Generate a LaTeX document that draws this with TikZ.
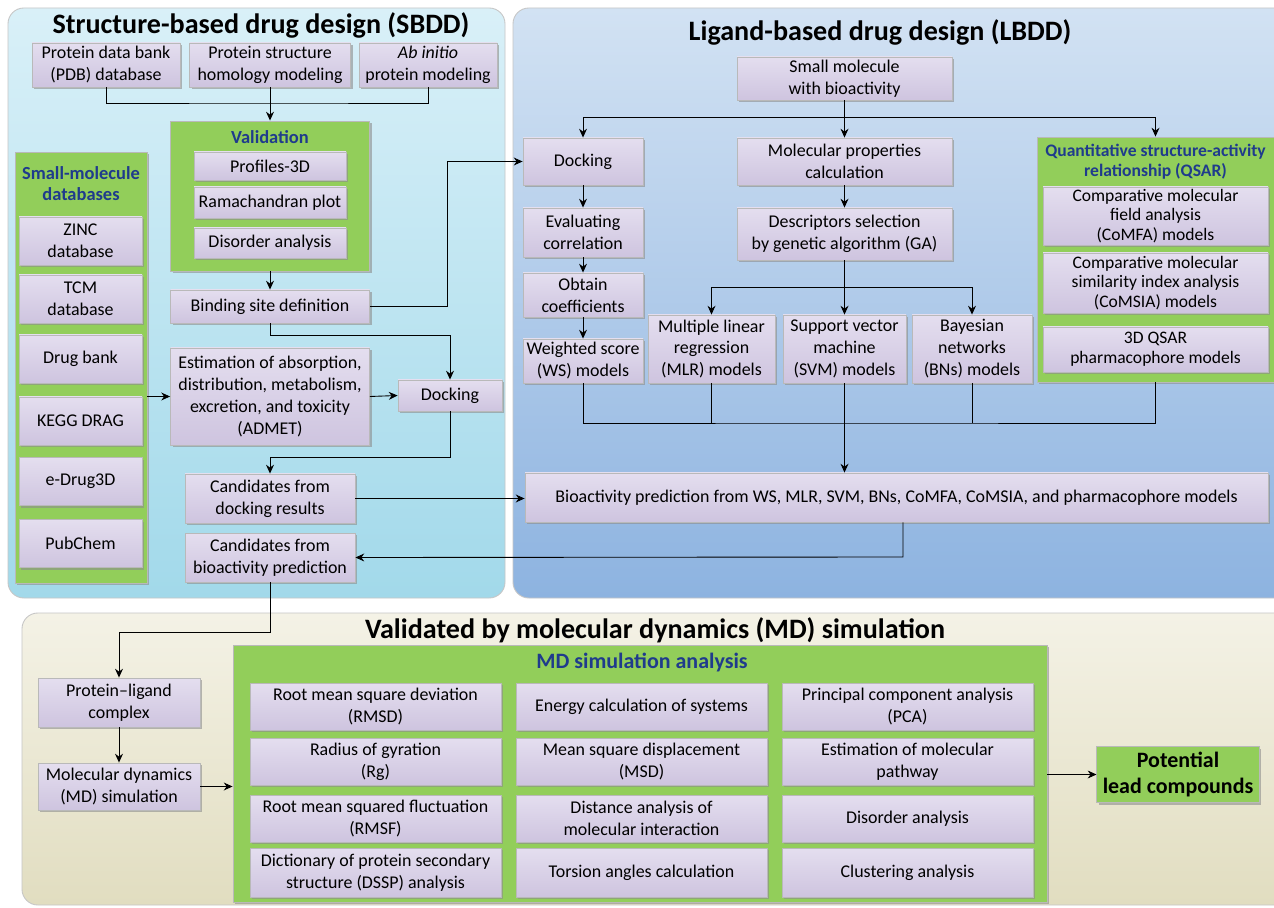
\documentclass[tikz,border=0pt]{standalone}
\usepackage{fontspec}
\setmainfont{Carlito}
\usepackage{tikz}
\usetikzlibrary{arrows.meta}
\usetikzlibrary{shadows}

\definecolor{LilacTop}{HTML}{E4DEEF}
\definecolor{LilacBot}{HTML}{CEC4DF}
\definecolor{PanelGreen}{HTML}{92CE5A}
\definecolor{TitleBlue}{HTML}{1F3B8C}
\definecolor{SbTop}{HTML}{D9F0F8}
\definecolor{SbBot}{HTML}{A2D9EA}
\definecolor{LbTop}{HTML}{D2E2F3}
\definecolor{LbBot}{HTML}{8DB3E0}
\definecolor{MdTop}{HTML}{F4F2E6}
\definecolor{MdBot}{HTML}{E1DDC0}

\begin{document}
\begin{tikzpicture}[x=0.02cm, y=-0.02cm, line width=0.5pt,
    box/.style={draw=gray!55, top color=LilacTop, bottom color=LilacBot, align=center,
        inner sep=1pt, font=\fontsize{10.2}{12.5}\selectfont,
        drop shadow={shadow xshift=1.2pt, shadow yshift=-1.2pt, fill=black!45, opacity=0.6}},
    qbox/.style={box, font=\fontsize{10}{11.3}\selectfont},
    greenbox/.style={draw=gray!55, fill=PanelGreen,
        drop shadow={shadow xshift=1.2pt, shadow yshift=-1.2pt, fill=black!45, opacity=0.6}},
    sz/.style 2 args={minimum width=#1*0.02cm, minimum height=#2*0.02cm},
    head/.style={font=\fontsize{16}{19}\selectfont\bfseries},
    bluehead/.style={text=TitleBlue, align=center, font=\fontsize{10.5}{12}\selectfont\bfseries},
    panel/.style={draw=gray!45, line width=0.5pt, rounded corners=9pt},
    arr/.style={-{Stealth[length=5pt,width=4.5pt]}}]

    \clip (0,0) rectangle (1274,908);
    \fill[white] (0,0) rectangle (1274,908);

    % ---- SBDD ----
    \draw[panel, top color=SbTop, bottom color=SbBot] (8,8) rectangle (505,598);
    \node[head] (sbddT) at (261,25) {Structure-based drug design (SBDD)};

    \node[box, sz={148}{44}] (pdb) at (106,65) {Protein data bank\\(PDB) database};
    \node[box, sz={161}{44}] (homol) at (270,65) {Protein structure\\homology modeling};
    \node[box, sz={138}{44}] (abinit) at (428,65) {\textit{Ab initio}\\protein modeling};

    \node[greenbox, sz={199}{150}] (val) at (270,196) {};
    \node[bluehead] (valT) at (270,137) {Validation};
    \node[box, sz={152}{28}] (prof) at (270,166) {Profiles-3D};
    \node[box, sz={152}{31}] (rama) at (270,202.5) {Ramachandran plot};
    \node[box, sz={152}{30}] (disA) at (270,243) {Disorder analysis};

    \node[box, sz={199}{33}] (bind) at (270,306.5) {Binding site definition};
    \node[box, sz={199}{97}] (admet) at (270,396.5) {Estimation of absorption,\\distribution, metabolism,\\excretion, and toxicity\\(ADMET)};
    \node[box, sz={104}{31}] (dockS) at (450,395.5) {Docking};
    \node[box, sz={170}{49}] (candD) at (270,498.5) {Candidates from\\docking results};
    \node[box, sz={170}{49}] (candB) at (270,557.5) {Candidates from\\bioactivity prediction};

    \node[greenbox, sz={132}{431}] (smdb) at (81,367.5) {};
    \node[bluehead] (smdbT) at (81,184) {Small-molecule\\databases};
    \node[box, sz={123}{48}] (zinc) at (80.5,241) {ZINC\\database};
    \node[box, sz={123}{48}] (tcm) at (80.5,299) {TCM\\database};
    \node[box, sz={123}{48}] (dbank) at (80.5,359) {Drug bank};
    \node[box, sz={123}{48}] (kegg) at (80.5,421) {KEGG DRAG};
    \node[box, sz={123}{48}] (edrug) at (80.5,481.5) {e-Drug3D};
    \node[box, sz={123}{48}] (pubchem) at (80.5,543.5) {PubChem};

    % ---- LBDD ----
    \draw[panel, top color=LbTop, bottom color=LbBot] (513,8) rectangle (1300,598);
    \node[head] (lbddT) at (880,32) {Ligand-based drug design (LBDD)};

    \node[box, sz={215}{43}] (small) at (844.5,78.5) {Small molecule\\with bioactivity};
    \node[box, sz={120}{47}] (dockL) at (583,161.5) {Docking};
    \node[box, sz={120}{49}] (evalc) at (583,232.5) {Evaluating\\correlation};
    \node[box, sz={120}{44}] (obtain) at (583,295) {Obtain\\coefficients};
    \node[box, sz={120}{44}] (ws) at (583,361) {Weighted score\\(WS) models};
    \node[box, sz={215}{47}] (molprop) at (844.5,161.5) {Molecular properties\\calculation};
    \node[box, sz={215}{52}] (desc) at (844.5,234) {Descriptors selection\\by genetic algorithm (GA)};
    \node[box, sz={127}{68}] (mlr) at (711.5,349) {Multiple linear\\regression\\(MLR) models};
    \node[box, sz={123}{68}] (svm) at (844.5,349) {Support vector\\machine\\(SVM) models};
    \node[box, sz={120}{68}] (bns) at (972,349) {Bayesian\\networks\\(BNs) models};

    \node[greenbox, sz={237}{245}] (qsar) at (1155.5,259.5) {};
    \node[bluehead, font=\fontsize{10}{11.5}\selectfont\bfseries] (qsarT) at (1155.5,162) {Quantitative structure-activity\\relationship (QSAR)};
    \node[qbox, sz={225}{58}] (comfa) at (1155.5,216) {Comparative molecular\\field analysis\\(CoMFA) models};
    \node[qbox, sz={225}{60}] (comsia) at (1155.5,283) {Comparative molecular\\similarity index analysis\\(CoMSIA) models};
    \node[qbox, sz={225}{45}] (phar) at (1155.5,349.5) {3D QSAR\\pharmacophore models};

    \node[box, sz={743}{49}] (bio) at (896.5,497.5) {Bioactivity prediction from WS, MLR, SVM, BNs, CoMFA, CoMSIA, and pharmacophore models};

    % ---- MD ----
    \draw[panel, top color=MdTop, bottom color=MdBot] (22,613) rectangle (1300,905);
    \node[head] (mdT) at (655,630) {Validated by molecular dynamics (MD) simulation};

    \node[box, sz={162}{49}] (pl) at (119,702.5) {Protein--ligand\\complex};
    \node[box, sz={162}{47}] (mdsim) at (119,786.5) {Molecular dynamics\\(MD) simulation};

    \node[greenbox, sz={814}{257}] (mdan) at (640,773.5) {};
    \node[bluehead, font=\fontsize{12.5}{14}\selectfont\bfseries] (mdanT) at (642,663) {MD simulation analysis};
    \node[box, sz={251}{47}] (rmsd) at (375.5,706.5) {Root mean square deviation\\(RMSD)};
    \node[box, sz={251}{47}] (energy) at (641.5,706.5) {Energy calculation of systems};
    \node[box, sz={251}{47}] (pca) at (907.5,706.5) {Principal component analysis\\(PCA)};
    \node[box, sz={251}{47}] (rg) at (375.5,761.5) {Radius of gyration\\(Rg)};
    \node[box, sz={251}{47}] (msd) at (641.5,761.5) {Mean square displacement\\(MSD)};
    \node[box, sz={251}{47}] (path) at (907.5,761.5) {Estimation of molecular\\pathway};
    \node[box, sz={251}{47}] (rmsf) at (375.5,818.5) {Root mean squared fluctuation\\(RMSF)};
    \node[box, sz={251}{47}] (dist) at (641.5,818.5) {Distance analysis of\\molecular interaction};
    \node[box, sz={251}{47}] (disB) at (907.5,818.5) {Disorder analysis};
    \node[box, sz={251}{49}] (dssp) at (375.5,872.5) {Dictionary of protein secondary\\structure (DSSP) analysis};
    \node[box, sz={251}{49}] (tors) at (641.5,872.5) {Torsion angles calculation};
    \node[box, sz={251}{49}] (clus) at (907.5,872.5) {Clustering analysis};

    \node[greenbox, align=center, font=\fontsize{12.5}{14.5}\selectfont\bfseries, sz={160}{55}] (lead) at (1178,774.5) {Potential\\lead compounds};

    % ---- connectors ----
    \coordinate (J1) at (270,103);
    \coordinate (J2) at (447,161.5);
    \coordinate (J3) at (450,335);
    \coordinate (J4) at (270,457);
    \coordinate (J5) at (903,557);
    \coordinate (J6) at (119,632);
    \coordinate (J7) at (844.5,117);
    \coordinate (J8) at (844.5,287);
    \coordinate (J9) at (844.5,423);

    \draw (pdb.south) |- (J1) -| (abinit.south);
    \draw[arr] (homol.south) -- (val.north);
    \draw[arr] (val.south) -- (bind.north);
    \draw[arr] (bind.east) -| (J2) -- (dockL.west);
    \draw[arr] (bind.south) |- (J3) -- (dockS.north);
    \draw[arr] (smdb.east |- admet) -- (admet.west);
    \draw[arr] (admet.east) -- (dockS.west);
    \draw[arr] (dockS.south) |- (J4) -- (candD.north);
    \draw[arr] (candD.east) -- (candD.east -| bio.west);
    \draw[arr] (bio.south -| J5) -- (J5) -- (candB.east);
    \draw[arr] (candB.south) |- (J6) -- (pl.north);

    \draw (small) -- (J7);
    \draw[arr] (J7) -| (dockL.north);
    \draw[arr] (J7) -- (molprop.north);
    \draw[arr] (J7) -| (qsar.north);
    \draw[arr] (dockL) -- (evalc);
    \draw[arr] (evalc) -- (obtain);
    \draw[arr] (obtain) -- (ws);
    \draw[arr] (molprop) -- (desc);
    \draw (desc) -- (J8);
    \draw[arr] (J8) -| (mlr.north);
    \draw[arr] (J8) -- (svm.north);
    \draw[arr] (J8) -| (bns.north);
    \draw (ws.south) |- (J9) -| (qsar.south);
    \draw (mlr.south) -- (mlr.south |- J9);
    \draw (bns.south) -- (bns.south |- J9);
    \draw[arr] (svm.south) -- (svm.south |- bio.north);

    \draw[arr] (pl) -- (mdsim);
    \draw[arr] (mdsim.east) -- (mdsim.east -| mdan.west);
    \draw[arr] (mdan.east |- lead) -- (lead.west);
\end{tikzpicture}
\end{document}
